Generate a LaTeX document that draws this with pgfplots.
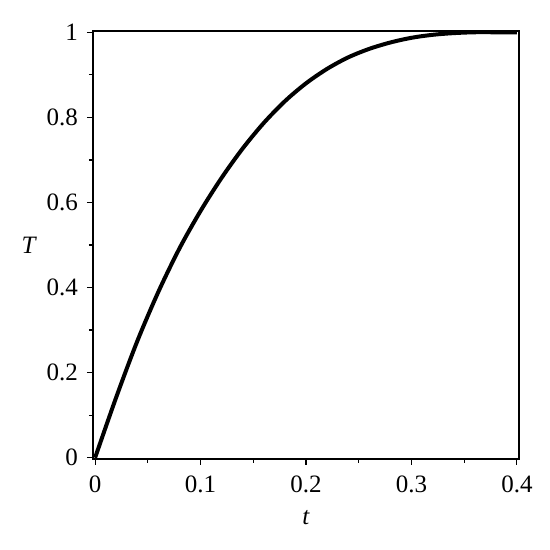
\documentclass[border=0pt]{standalone}
\usepackage{fontspec}
\setmainfont{Liberation Serif}
\usepackage{pgfplots}
\pgfplotsset{compat=1.18}

\begin{document}
\begin{tikzpicture}
\begin{axis}[
    name=ax,
    scale only axis,
    width=213pt, height=214pt,
    xmin=-0.002, xmax=0.402,
    ymin=-0.003, ymax=1.003,
    xtick={0,0.1,0.2,0.3,0.4},
    ytick={0,0.2,0.4,0.6,0.8,1},
    xticklabels={0,0.1,0.2,0.3,0.4},
    yticklabels={0,0.2,0.4,0.6,0.8,1},
    minor xtick={0.05,0.15,0.25,0.35},
    minor ytick={0.1,0.3,0.5,0.7,0.9},
    tick pos=left,
    tick align=outside,
    major tick length=3pt,
    minor tick length=2pt,
    every tick/.style={black, line width=0.6pt},
    axis line style={line width=0.7pt},
    tick label style={font=\fontsize{12.5}{15}\selectfont},
    xticklabel style={yshift=-2pt},
    yticklabel style={xshift=-1pt},
    xlabel={\fontsize{12.5}{15}\selectfont\textit{t}},
    ylabel={\fontsize{12.5}{15}\selectfont\textit{T}},
    xlabel style={yshift=-2pt},
    ylabel style={rotate=-90, xshift=2pt},
    clip=false,
]
\addplot[black, line width=2pt, smooth, line join=round] coordinates {
    (0,0) (0.02,0.142) (0.04,0.274) (0.06,0.390) (0.08,0.492)
    (0.10,0.580) (0.12,0.658) (0.14,0.727) (0.16,0.787) (0.18,0.838)
    (0.20,0.880) (0.22,0.914) (0.24,0.941) (0.26,0.961) (0.28,0.976)
    (0.30,0.987) (0.32,0.994) (0.34,0.998) (0.36,1.000) (0.38,1.000)
    (0.40,1.000)
};
\end{axis}
\path (ax.south west) ++(-46.5pt,-45.5pt) rectangle ++(275pt,275pt);
\end{tikzpicture}
\end{document}
